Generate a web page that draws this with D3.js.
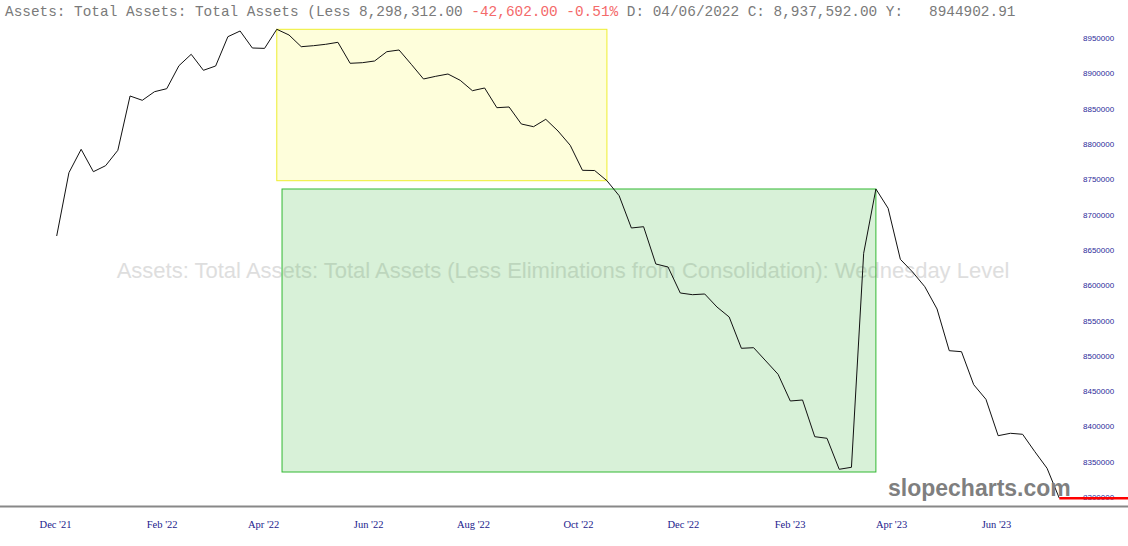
<!DOCTYPE html>
<html>
<head>
<meta charset="utf-8">
<script src="https://cdn.jsdelivr.net/npm/d3@7"></script>
<style>
  body { margin: 0; background: #fff; }
  svg { display: block; }
</style>
</head>
<body>
<script>
var w = 1128;
var h = 546;

// Weekly (Wednesday) dates
var dates = [
    "2021-12-08", "2021-12-15", "2021-12-22", "2021-12-29",
    "2022-01-05", "2022-01-12", "2022-01-19", "2022-01-26",
    "2022-02-02", "2022-02-09", "2022-02-16", "2022-02-23",
    "2022-03-02", "2022-03-09", "2022-03-16", "2022-03-23", "2022-03-30",
    "2022-04-06", "2022-04-13", "2022-04-20", "2022-04-27",
    "2022-05-04", "2022-05-11", "2022-05-18", "2022-05-25",
    "2022-06-01", "2022-06-08", "2022-06-15", "2022-06-22", "2022-06-29",
    "2022-07-06", "2022-07-13", "2022-07-20", "2022-07-27",
    "2022-08-03", "2022-08-10", "2022-08-17", "2022-08-24", "2022-08-31",
    "2022-09-07", "2022-09-14", "2022-09-21", "2022-09-28",
    "2022-10-05", "2022-10-12", "2022-10-19", "2022-10-26",
    "2022-11-02", "2022-11-09", "2022-11-16", "2022-11-23", "2022-11-30",
    "2022-12-07", "2022-12-14", "2022-12-21", "2022-12-28",
    "2023-01-04", "2023-01-11", "2023-01-18", "2023-01-25",
    "2023-02-01", "2023-02-08", "2023-02-15", "2023-02-22",
    "2023-03-01", "2023-03-08", "2023-03-15", "2023-03-22", "2023-03-29",
    "2023-04-05", "2023-04-12", "2023-04-19", "2023-04-26",
    "2023-05-03", "2023-05-10", "2023-05-17", "2023-05-24", "2023-05-31",
    "2023-06-07", "2023-06-14", "2023-06-21", "2023-06-28",
    "2023-07-05"
];

// Total assets, millions of dollars
var values = [
    8669610, 8759250, 8792390, 8760670, 8769160, 8790970, 8867870, 8861780,
    8873960, 8878200, 8910770, 8926920, 8904260, 8910350, 8951840, 8959910,
    8935840, 8935300, 8962320, 8954250, 8937680, 8939100, 8941080, 8943910,
    8914170, 8915020, 8917430, 8930600, 8933010, 8912760, 8891940, 8895760,
    8899020, 8890100, 8875370, 8879200, 8851300, 8852290, 8828220, 8824390,
    8834870, 8818300, 8798050, 8762650, 8762300, 8747920, 8726680, 8680940,
    8682780, 8629960, 8625710, 8588890, 8586490, 8587480, 8569070, 8554910,
    8510580, 8511430, 8492600, 8473770, 8435960, 8437370, 8385400, 8383140,
    8339240, 8342070, 8645110, 8736170, 8708840, 8636620, 8618630, 8597820,
    8566240, 8507190, 8505770, 8459040, 8438360, 8386820, 8390220, 8388800,
    8364160, 8340650, 8298312
];

// Axis ticks
var yTicks = [8300000, 8350000, 8400000, 8450000, 8500000, 8550000, 8600000,
    8650000, 8700000, 8750000, 8800000, 8850000, 8900000, 8950000];
var xTickDates = ["2021-12-01", "2022-02-01", "2022-04-01", "2022-06-01", "2022-08-01",
    "2022-10-01", "2022-12-01", "2023-02-01", "2023-04-01", "2023-06-01"];
var xTickLabels = ["Dec '21", "Feb '22", "Apr '22", "Jun '22", "Aug '22",
    "Oct '22", "Dec '22", "Feb '23", "Apr '23", "Jun '23"];

// Drawn boxes: [start date, end date, top value, bottom value]
var yellowBox = ["2022-04-13", "2022-10-19", 8962320, 8747920];
var greenBox = ["2022-04-16", "2023-03-22", 8736170, 8335400];

var parse = d3.timeParse("%Y-%m-%d");
var data = dates.map(function(d, i) {
    return { date: parse(d), value: values[i] };
});

var x = d3.scaleTime()
    .domain([parse(dates[0]), parse(dates[dates.length - 1])])
    .range([56.7, 1059.3]);

// the date labels sit on a slightly tighter scale than the line
var xLabel = d3.scaleTime()
    .domain([parse(xTickDates[0]), parse(xTickDates[xTickDates.length - 1])])
    .range([55, 996]);

var y = d3.scaleLinear()
    .domain([8300000, 8950000])
    .range([497, 38]);

var svg = d3.select("body")
    .append("svg")
    .attr("width", w)
    .attr("height", h);

// Header line
var header = svg.append("text")
    .attr("x", 5)
    .attr("y", 16)
    .style("font-family", "'Liberation Mono', 'Courier New', monospace")
    .style("font-size", "14.4px")
    .style("white-space", "pre")
    .attr("xml:space", "preserve");
header.append("tspan").attr("fill", "#7a7a7a").text("Assets: Total Assets: Total Assets (Less 8,298,312.00 ");
header.append("tspan").attr("fill", "#f46a6a").text("-42,602.00 -0.51%");
header.append("tspan").attr("fill", "#7a7a7a").text(" D: 04/06/2022 C: 8,937,592.00 Y:   8944902.91");

// Watermark title
svg.append("text")
    .attr("x", 563)
    .attr("y", 278)
    .attr("text-anchor", "middle")
    .attr("fill", "#dedede")
    .style("font-family", "'Liberation Sans', Arial, sans-serif")
    .style("font-size", "22px")
    .text("Assets: Total Assets: Total Assets (Less Eliminations from Consolidation): Wednesday Level");

// Boxes
function drawBox(b, fill, stroke) {
    svg.append("rect")
        .attr("x", x(parse(b[0])))
        .attr("y", y(b[2]))
        .attr("width", x(parse(b[1])) - x(parse(b[0])))
        .attr("height", y(b[3]) - y(b[2]))
        .attr("fill", fill)
        .attr("stroke", stroke)
        .attr("stroke-width", 1);
}
drawBox(yellowBox, "rgba(248,248,40,0.17)", "#eeee30");
drawBox(greenBox, "rgba(40,180,40,0.18)", "#33b833");

// Price line
var line = d3.line()
    .x(function(d) { return x(d.date); })
    .y(function(d) { return y(d.value); });

svg.append("path")
    .datum(data)
    .attr("d", line)
    .attr("fill", "none")
    .attr("stroke", "#111")
    .attr("stroke-width", 1);

// Logo
svg.append("text")
    .attr("x", 888)
    .attr("y", 496)
    .attr("fill", "#7f7f7f")
    .style("font-family", "'Liberation Sans', Arial, sans-serif")
    .style("font-weight", "bold")
    .style("font-size", "23px")
    .text("slopecharts.com");

// Y axis on the right
var yAxis = d3.axisRight(y)
    .tickValues(yTicks)
    .tickSize(0)
    .tickPadding(0)
    .tickFormat(d3.format("d"));

var gy = svg.append("g")
    .attr("transform", "translate(1083,0)")
    .call(yAxis);
gy.select(".domain").remove();
gy.selectAll("text")
    .attr("fill", "#2b2b9a")
    .style("font-family", "'Liberation Sans', Arial, sans-serif")
    .style("font-size", "8px");

// Last value marker
var last = data[data.length - 1];
svg.append("line")
    .attr("x1", x(last.date))
    .attr("x2", w)
    .attr("y1", y(last.value))
    .attr("y2", y(last.value))
    .attr("stroke", "#ff0000")
    .attr("stroke-width", 2.5);

// Bottom rule
svg.append("line")
    .attr("x1", 0)
    .attr("x2", w)
    .attr("y1", 506.5)
    .attr("y2", 506.5)
    .attr("stroke", "#888")
    .attr("stroke-width", 2);

// X axis labels
var xAxis = d3.axisBottom(xLabel)
    .tickValues(xTickDates.map(parse))
    .tickSize(0)
    .tickPadding(0)
    .tickFormat(function(d, i) { return xTickLabels[i]; });

var gx = svg.append("g")
    .attr("transform", "translate(0,521)")
    .call(xAxis);
gx.select(".domain").remove();
gx.selectAll("text")
    .attr("fill", "#1a1a8c")
    .style("font-family", "'Liberation Serif', 'Times New Roman', serif")
    .style("font-size", "10.5px");
</script>
</body>
</html>
